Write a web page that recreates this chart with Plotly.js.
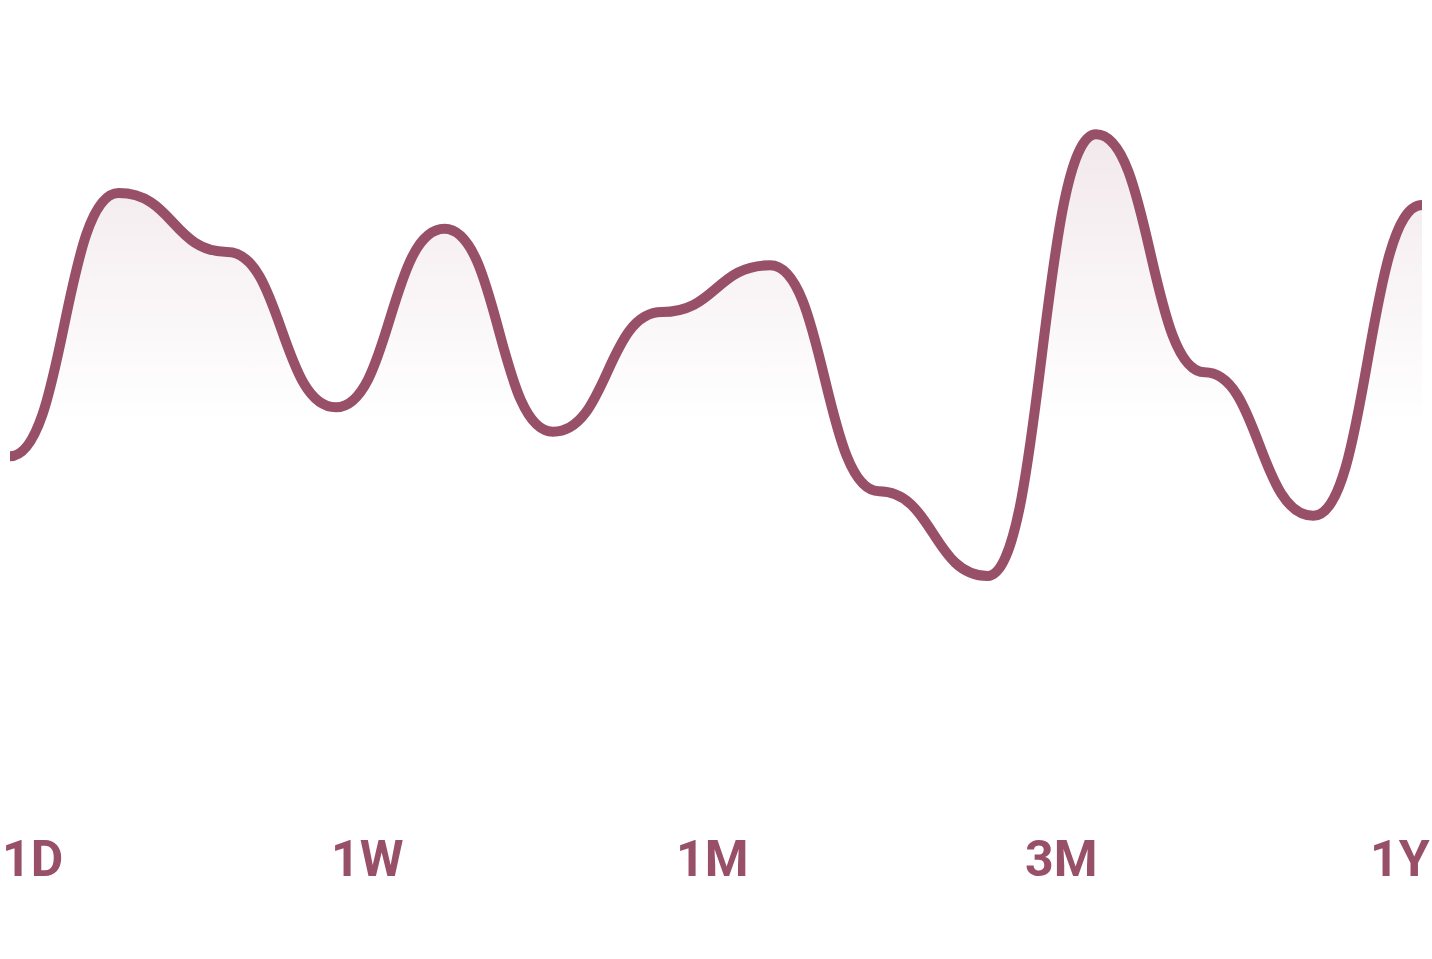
<!DOCTYPE html>
<html>
<head>
<meta charset="utf-8">
<script src="https://cdn.plot.ly/plotly-3.0.1.min.js"></script>
<style>
  html, body { margin: 0; padding: 0; background: #ffffff; }
  #chart { width: 1432px; height: 959px; }
</style>
</head>
<body>
<div id="chart"></div>
<script>
// Data
const steps = [0, 1, 2, 3, 4, 5, 6, 7, 8, 9, 10, 11, 12, 13];
const values = [49.1, 86.7, 78.3, 56.1, 81.6, 52.6, 69.7, 76.4, 44.1, 32.0, 95.1, 61.1, 40.6, 85.0];
const periodLabels = ['1D', '1W', '1M', '3M', '1Y'];
const labelPositions = [-0.0071, 0.2530, 0.4972, 0.7442, 1.0071];

const lineColor = '#985069';
const fadeStart = 54;   // level where the area tint has fully faded
const fadeStop = 96;    // level of full tint

// Smooth curve with horizontal tangents at every data point (bump curve),
// expressed in data coordinates so the axes scale it.
let curve = 'M ' + steps[0] + ',' + values[0];
for (let i = 1; i < steps.length; i++) {
  const xm = (steps[i - 1] + steps[i]) / 2;
  curve += ' C ' + xm + ',' + values[i - 1] + ' ' + xm + ',' + values[i] + ' ' + steps[i] + ',' + values[i];
}
const last = steps.length - 1;
const area = curve + ' L ' + steps[last] + ',0 L ' + steps[0] + ',0 Z';

const areaShape = {
  type: 'path', xref: 'x', yref: 'y', path: area,
  line: { width: 0 },
  fillcolor: 'rgba(152,80,105,0.13)',
  layer: 'below'
};

const lineShape = {
  type: 'path', xref: 'x', yref: 'y', path: curve,
  line: { color: lineColor, width: 10 },
  fillcolor: 'rgba(0,0,0,0)',
  layer: 'above'
};

// White vertical fade over the tinted area, giving the gradient
const yTop = Math.max(...values) + 5;
const fadeTrace = {
  x: [steps[0], steps[last], steps[last], steps[0]],
  y: [yTop, yTop, 0, 0],
  type: 'scatter',
  mode: 'lines',
  line: { width: 0, color: 'rgba(0,0,0,0)' },
  fill: 'toself',
  fillgradient: {
    type: 'vertical',
    start: fadeStart,
    stop: fadeStop,
    colorscale: [[0, 'rgba(255,255,255,1)'], [1, 'rgba(255,255,255,0)']]
  },
  hoverinfo: 'skip'
};

const annotations = periodLabels.map((t, i) => ({
  text: t,
  xref: 'paper',
  yref: 'paper',
  x: labelPositions[i],
  y: -0.084,
  xanchor: i === 0 ? 'left' : (i === periodLabels.length - 1 ? 'right' : 'center'),
  yanchor: 'middle',
  showarrow: false,
  font: { family: 'Roboto, sans-serif', size: 50, color: lineColor, weight: 700 }
}));

const layout = {
  width: 1432,
  height: 959,
  margin: { l: 10, r: 10, t: 100, b: 159 },
  paper_bgcolor: '#ffffff',
  plot_bgcolor: '#ffffff',
  showlegend: false,
  xaxis: { range: [0, 13], visible: false, showgrid: false, zeroline: false, fixedrange: true },
  yaxis: { range: [0, 100], visible: false, showgrid: false, zeroline: false, fixedrange: true },
  shapes: [areaShape, lineShape],
  annotations: annotations
};

Plotly.newPlot('chart', [fadeTrace], layout, { displayModeBar: false, staticPlot: true });
</script>
</body>
</html>
